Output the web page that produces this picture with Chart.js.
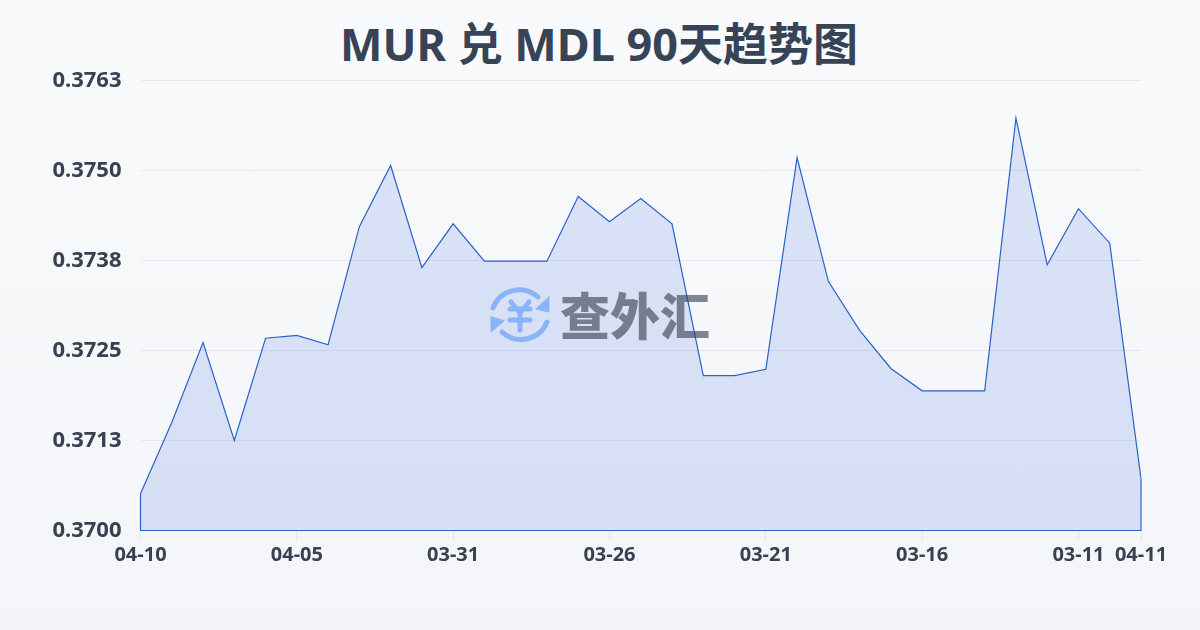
<!DOCTYPE html>
<html><head><meta charset="utf-8">
<script src="https://cdn.jsdelivr.net/npm/chart.js@4/dist/chart.umd.min.js"></script>
<style>
html,body{margin:0;padding:0;width:1200px;height:630px;overflow:hidden;background:linear-gradient(180deg,#f9fafc 0%,#f3f5f8 100%);font-family:"Noto Sans","Noto Sans CJK SC",sans-serif}
#title{position:absolute;left:0;top:12px;width:1198px;text-align:center;font:700 45px/64px "Noto Sans","Noto Sans CJK SC";color:#374356;white-space:nowrap}
#wm{position:absolute;left:489px;top:285px;width:225px;height:60px;display:flex;align-items:center;z-index:2}
#wm span{font:900 50px/60px "Noto Sans CJK SC";color:rgba(55,65,81,.62);margin-left:9px;margin-top:-4px;white-space:nowrap}
canvas{position:absolute;left:0;top:0}
</style></head><body>
<div id="title"></div>
<canvas id="c" width="1200" height="630"></canvas>
<div id="wm"><svg width="62" height="60" viewBox="0 0 62 60" fill="none" stroke="#8ab4f8" stroke-linecap="round" stroke-linejoin="round">
<path d="M4 23A28 28 0 0 1 49 12" stroke-width="5"/><path d="M60 12v15L47 24z" fill="#8ab4f8" stroke="#8ab4f8" stroke-width="1"/>
<path d="M58 37A28 28 0 0 1 13 47" stroke-width="5"/><path d="M2 32v15L15 36z" fill="#8ab4f8" stroke="#8ab4f8" stroke-width="1"/>
<path d="M22 17l9 11 9-11M21 24h20M21 35h20M31 28v17" stroke-width="5"/></svg><span>查外汇</span></div>
<script>
const categories=["04-10","04-09","04-08","04-07","04-06","04-05","04-04","04-03","04-02","04-01","03-31","03-30","03-29","03-28","03-27","03-26","03-25","03-24","03-23","03-22","03-21","03-20","03-19","03-18","03-17","03-16","03-15","03-14","03-13","03-12","03-11","03-10","04-11"];
const rates=[0.37051,0.3715,0.37261,0.37125,0.37267,0.37271,0.37258,0.37422,0.37507,0.37365,0.37426,0.37374,0.37374,0.37374,0.37464,0.37429,0.37461,0.37426,0.37215,0.37215,0.37224,0.37518,0.37346,0.37278,0.37225,0.37194,0.37194,0.37194,0.37573,0.37369,0.37447,0.37399,0.37072];
const shownTicks=["04-10","04-05","03-31","03-26","03-21","03-16","03-11","04-11"];
const yTicks=[0.37,0.37125,0.3725,0.37375,0.375,0.37625];
const yLabels=["0.3700","0.3713","0.3725","0.3738","0.3750","0.3763"];
const titleText="MUR 兑 MDL 90天趋势图";
const lineColor="#2b62c6";
document.getElementById("title").textContent=titleText;
const closeShape={id:"closeShape",afterDatasetsDraw(ch){
  const x=ch.scales.x,y=ch.scales.y,g=ch.ctx,b=y.getPixelForValue(y.min);
  g.save();g.strokeStyle=lineColor;g.lineWidth=1.2;g.beginPath();
  g.moveTo(x.getPixelForValue(0),y.getPixelForValue(rates[0]));
  g.lineTo(x.getPixelForValue(0),b);
  g.lineTo(x.getPixelForValue(rates.length-1),b);
  g.lineTo(x.getPixelForValue(rates.length-1),y.getPixelForValue(rates[rates.length-1]));
  g.stroke();g.restore();}};
new Chart(document.getElementById("c"),{
 type:"line",
 data:{labels:categories,datasets:[{data:rates,borderColor:lineColor,borderWidth:1.2,pointRadius:0,tension:0,fill:"origin",backgroundColor:"rgba(70,115,225,0.17)"}]},
 plugins:[closeShape],
 options:{responsive:false,animation:false,
  layout:{padding:{left:0,right:59,top:80.5,bottom:0}},
  plugins:{legend:{display:false},tooltip:{enabled:false},title:{display:false}},
  scales:{
   x:{offset:false,grid:{drawOnChartArea:false,drawTicks:true,tickLength:10,color:"#e4e7ec"},border:{display:false},
    afterBuildTicks(s){s.ticks=s.ticks.filter(t=>shownTicks.includes(categories[t.value]));},
    afterFit(s){s.height=99.5;},
    ticks:{autoSkip:false,maxRotation:0,minRotation:0,padding:3,color:"#374151",font:{family:'"Noto Sans"',size:20,weight:"700"},
     callback(v){return categories[v];}}},
   y:{min:0.37,max:0.37625,grid:{color:"#e4e7ec",lineWidth:1,drawTicks:false},border:{display:false},
    afterBuildTicks(s){s.ticks=yTicks.map(v=>({value:v}));},
    afterFit(s){s.width=140.5;},
    ticks:{padding:19,color:"#374151",font:{family:'"Noto Sans"',size:22,weight:"700"},callback(v){return yLabels[yTicks.indexOf(v)];}}}
  }}
});
</script></body></html>
